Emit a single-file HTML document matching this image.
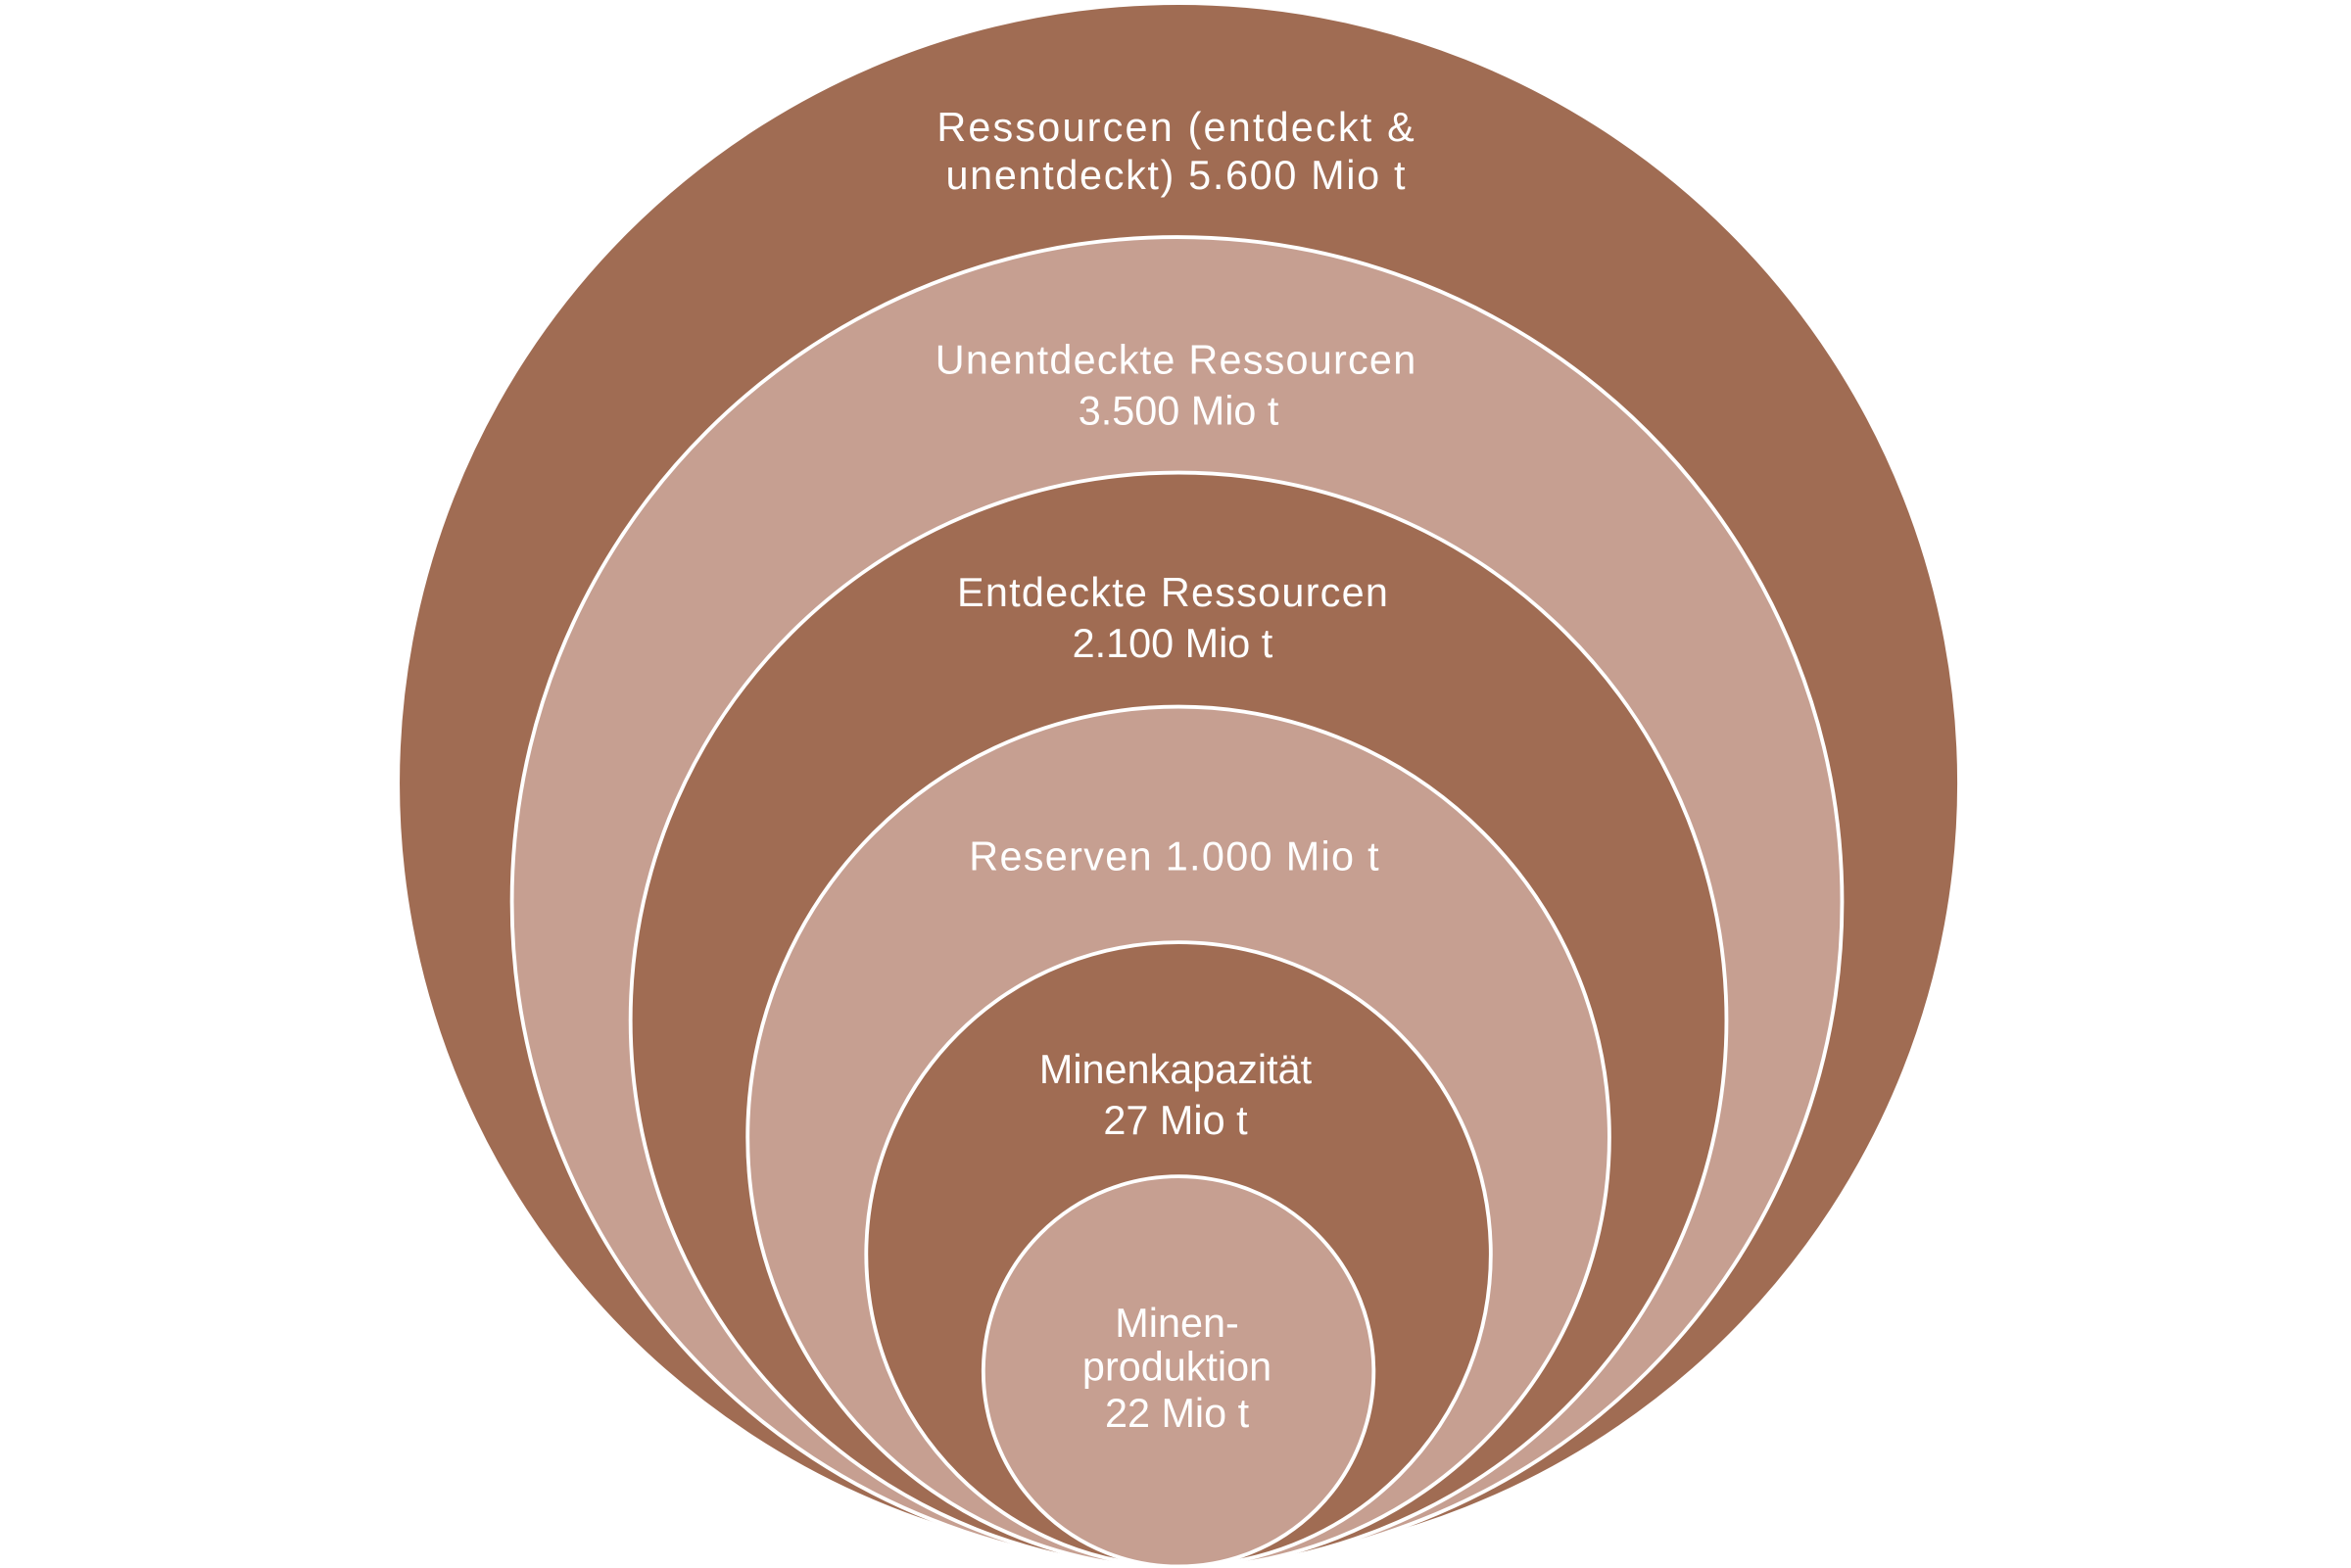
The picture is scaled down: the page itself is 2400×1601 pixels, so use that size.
<!DOCTYPE html>
<html><head><meta charset="utf-8"><style>
html,body{margin:0;padding:0;background:#fff;}
svg{display:block;}
text{font-family:"Liberation Sans",sans-serif;fill:#fff;text-anchor:middle;font-size:27px;}
</style></head><body>
<svg width="2400" height="1601" viewBox="0 0 1566 1045" preserveAspectRatio="none">
<g stroke="#fff" stroke-width="2.5">
<circle cx="785" cy="522" r="520" fill="#A06C53"/>
<circle cx="784" cy="601" r="443" fill="#C69F91"/>
<circle cx="785" cy="680" r="365" fill="#A06C53"/>
<circle cx="785" cy="758" r="287" fill="#C69F91"/>
<circle cx="785" cy="836" r="208" fill="#A06C53"/>
<circle cx="785" cy="914" r="130" fill="#C69F91"/>
</g>
<text x="783" y="94" textLength="318">Ressourcen (entdeckt &amp;</text>
<text x="783" y="126" textLength="306">unentdeckt) 5.600 Mio t</text>
<text x="783" y="249" textLength="320">Unentdeckte Ressourcen</text>
<text x="785" y="283">3.500 Mio t</text>
<text x="781" y="404" textLength="287">Entdeckte Ressourcen</text>
<text x="781" y="438">2.100 Mio t</text>
<text x="782" y="580" textLength="273">Reserven 1.000 Mio t</text>
<text x="783" y="722">Minenkapazität</text>
<text x="783" y="756">27 Mio t</text>
<text x="784" y="891">Minen-</text>
<text x="784" y="920">produktion</text>
<text x="784" y="951">22 Mio t</text>
</svg>
</body></html>
